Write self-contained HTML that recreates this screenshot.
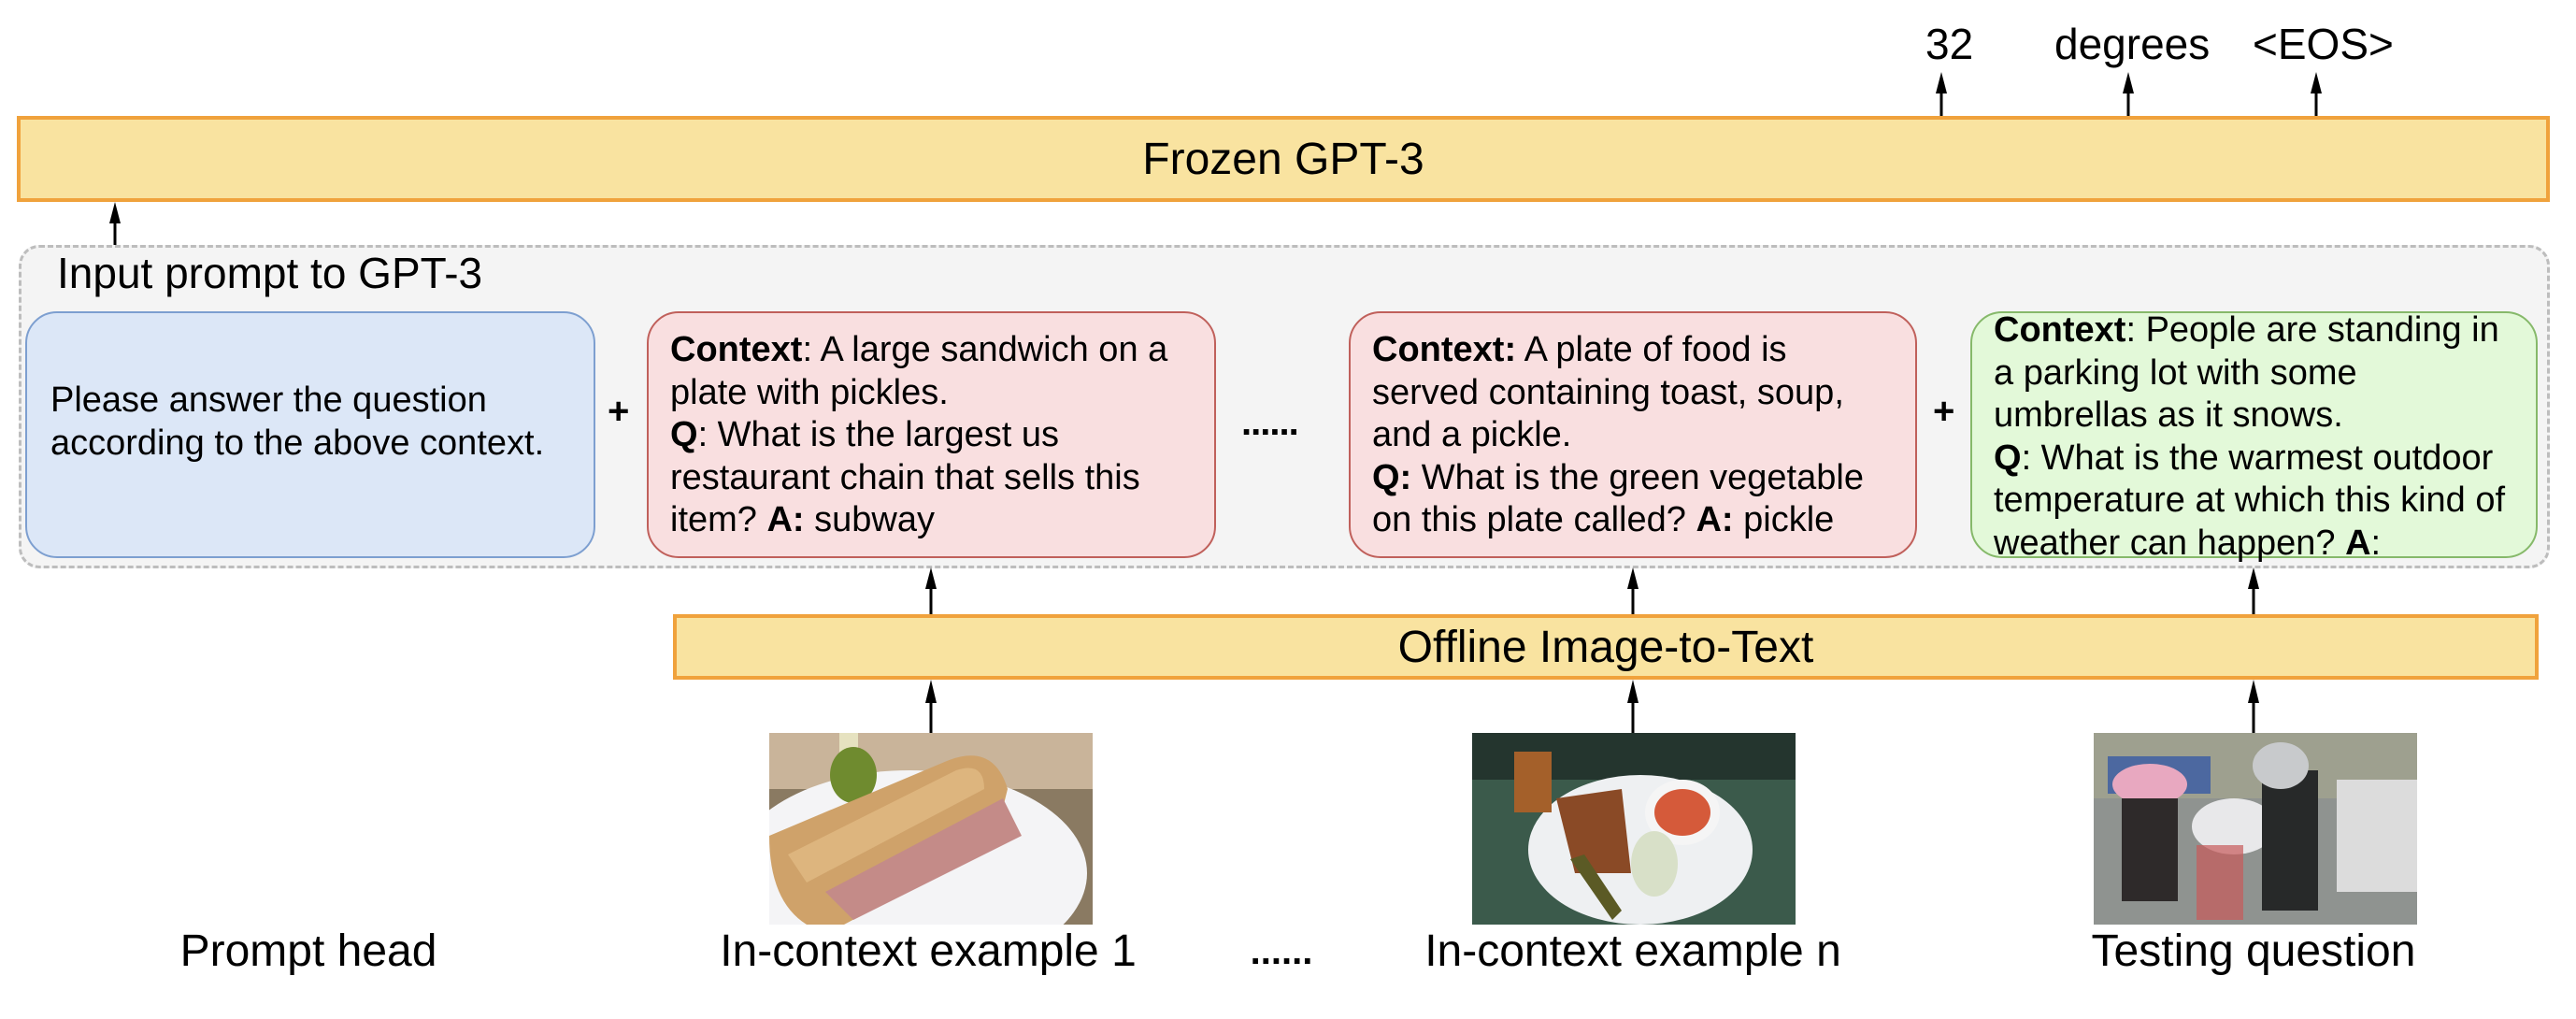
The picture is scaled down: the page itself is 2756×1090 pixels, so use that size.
<!DOCTYPE html>
<html><head><meta charset="utf-8"><style>
*{margin:0;padding:0;box-sizing:border-box}
body{width:2756px;height:1090px;background:#fff;position:relative;overflow:hidden;font-family:"Liberation Sans",Arial,sans-serif;color:#000}
.a{position:absolute}
.bar{position:absolute;background:#f9e3a0;border:4px solid #f0a23c;display:flex;align-items:center;justify-content:center;font-size:48px}
.box{position:absolute;top:333px;height:264px;border-radius:34px;border:2px solid}
.t{position:absolute;font-size:38px;line-height:45.5px;white-space:nowrap}
.lbl{position:absolute;font-size:48px;white-space:nowrap;transform:translateX(-50%);top:990px}
</style></head><body>
<div class="bar" style="left:18px;top:124px;width:2710px;height:92px">Frozen GPT-3</div>
<div class="a" style="left:20px;top:262px;width:2708px;height:346px;background:#f4f4f4;border:3px dashed #bdbdbd;border-radius:22px"></div>
<div class="a" style="left:61px;top:262px;font-size:46px;line-height:60px">Input prompt to GPT-3</div>
<div class="box" style="left:27px;width:610px;background:#dce7f7;border-color:#7d9fd0"></div>
<div class="t" style="left:54px;top:406px">Please answer the question<br>according to the above context.</div>
<div class="a" style="left:650px;top:418px;font-size:40px;font-weight:bold">+</div>
<div class="box" style="left:692px;width:609px;background:#f9dfe0;border-color:#c0605b"></div>
<div class="t" style="left:717px;top:352px"><b>Context</b>: A large sandwich on a<br>plate with pickles.<br><b>Q</b>: What is the largest us<br>restaurant chain that sells this<br>item? <b>A:</b> subway</div>
<div class="a" style="left:1328px;top:430px;font-size:40px;font-weight:bold;letter-spacing:-1px">......</div>
<div class="box" style="left:1443px;width:608px;background:#f9dfe0;border-color:#c0605b"></div>
<div class="t" style="left:1468px;top:352px"><b>Context:</b> A plate of food is<br>served containing toast, soup,<br>and a pickle.<br><b>Q:</b> What is the green vegetable<br>on this plate called? <b>A:</b> pickle</div>
<div class="a" style="left:2068px;top:418px;font-size:40px;font-weight:bold">+</div>
<div class="box" style="left:2108px;width:607px;background:#e3f9d9;border-color:#86b96a"></div>
<div class="t" style="left:2133px;top:331px"><b>Context</b>: People are standing in<br>a parking lot with some<br>umbrellas as it snows.<br><b>Q</b>: What is the warmest outdoor<br>temperature at which this kind of<br>weather can happen? <b>A</b>:</div>
<div class="bar" style="left:720px;top:657px;width:1996px;height:70px">Offline Image-to-Text</div>
<div class="a" style="left:2060px;top:20px;font-size:46px">32</div>
<div class="a" style="left:2198px;top:20px;font-size:46px">degrees</div>
<div class="a" style="left:2410px;top:20px;font-size:46px">&lt;EOS&gt;</div>
<svg class="a" style="left:0;top:0" width="2756" height="1090">
<g stroke="#000" stroke-width="3">
<line x1="2077" y1="124" x2="2077" y2="95"/><line x1="2277" y1="124" x2="2277" y2="95"/><line x1="2478" y1="124" x2="2478" y2="95"/>
<line x1="123" y1="262" x2="123" y2="235"/>
<line x1="996" y1="657" x2="996" y2="628"/><line x1="1747" y1="657" x2="1747" y2="628"/><line x1="2411" y1="657" x2="2411" y2="628"/>
<line x1="996" y1="784" x2="996" y2="750"/><line x1="1747" y1="784" x2="1747" y2="750"/><line x1="2411" y1="784" x2="2411" y2="750"/>
</g>
<g fill="#000">
<polygon points="2077,77 2071,100 2083,100"/><polygon points="2277,77 2271,100 2283,100"/><polygon points="2478,77 2472,100 2484,100"/>
<polygon points="123,216 117,239 129,239"/>
<polygon points="996,607 990,630 1002,630"/><polygon points="1747,607 1741,630 1753,630"/><polygon points="2411,607 2405,630 2417,630"/>
<polygon points="996,727 990,752 1002,752"/><polygon points="1747,727 1741,752 1753,752"/><polygon points="2411,727 2405,752 2417,752"/>
</g>
<svg x="823" y="784" width="346" height="205" viewBox="0 0 346 205">
<rect width="346" height="205" fill="#8a7a62"/>
<rect width="346" height="60" fill="#c9b49a"/>
<ellipse cx="150" cy="150" rx="190" ry="110" fill="#f4f4f6"/>
<rect x="75" y="0" width="20" height="40" fill="#e6e2c0"/>
<ellipse cx="90" cy="45" rx="25" ry="30" fill="#6f8b2f"/>
<path d="M0,110 L190,30 Q240,10 255,60 L240,120 L80,205 L40,205 Q0,180 0,110Z" fill="#cfa26a"/>
<path d="M60,170 L250,70 L270,110 L90,200Z" fill="#c48b88"/>
<path d="M20,130 L200,40 Q230,30 230,60 L40,160Z" fill="#ddb57e"/>
</svg>
<svg x="1575" y="784" width="346" height="205" viewBox="0 0 346 205">
<rect width="346" height="205" fill="#24352e"/>
<rect x="0" y="50" width="346" height="155" fill="#3b5a4b"/>
<ellipse cx="180" cy="125" rx="120" ry="80" fill="#eef0f2"/>
<rect x="45" y="20" width="40" height="65" fill="#a4602a"/>
<path d="M90,70 L160,60 L170,150 L110,150Z" fill="#8a4a26"/>
<ellipse cx="225" cy="85" rx="40" ry="35" fill="#f5f5f5"/>
<ellipse cx="225" cy="85" rx="30" ry="25" fill="#d55a3a"/>
<path d="M105,135 L150,200 L160,190 L120,130Z" fill="#5b5a25"/>
<ellipse cx="195" cy="140" rx="25" ry="35" fill="#d8e0c8"/>
</svg>
<svg x="2240" y="784" width="346" height="205" viewBox="0 0 346 205">
<rect width="346" height="205" fill="#8f9390"/>
<rect width="346" height="70" fill="#9ea08f"/>
<rect x="15" y="25" width="110" height="40" fill="#4c68a0"/>
<rect x="260" y="50" width="86" height="120" fill="#dcdcdc"/>
<ellipse cx="60" cy="55" rx="40" ry="22" fill="#e8a8c0"/>
<ellipse cx="150" cy="100" rx="45" ry="30" fill="#e8e8ea"/>
<rect x="30" y="70" width="60" height="110" fill="#2e2a2a"/>
<rect x="180" y="40" width="60" height="150" fill="#272929"/>
<ellipse cx="200" cy="35" rx="30" ry="25" fill="#c8cacc"/>
<rect x="110" y="120" width="50" height="80" fill="#c85a5a" opacity=".7"/>
</svg>
</svg>
<div class="lbl" style="left:330px">Prompt head</div>
<div class="lbl" style="left:993px">In-context example 1</div>
<div class="lbl" style="left:1371px;font-weight:bold;font-size:40px;top:996px">......</div>
<div class="lbl" style="left:1747px">In-context example n</div>
<div class="lbl" style="left:2411px">Testing question</div>
</body></html>
